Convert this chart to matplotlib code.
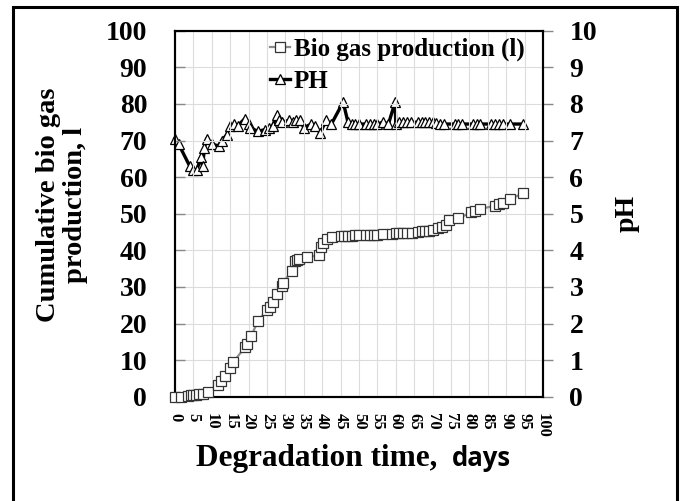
import matplotlib.pyplot as plt
from matplotlib.patches import Rectangle

# Cumulative biogas production (l) vs day
bio_days = [0, 1.5, 3.5, 4.3, 5, 5.8, 6.6, 7.5, 9, 11.7, 12.6, 13.5, 14.9, 15.8,
            19, 19.5, 20.7, 22.6, 24.9, 25.8, 26.7, 27.8, 29, 29.3, 31.7, 32.6,
            33.2, 33.7, 36, 39, 39.7, 40.3, 41.2, 42.6, 45, 46, 47, 48, 49, 50,
            52, 53, 54, 55, 56.5, 59, 60, 61, 62, 63, 64.5, 66, 67, 68, 69, 70,
            71.6, 72.5, 73.7, 74.5, 77, 80.5, 81.5, 83, 87, 88, 89, 91, 94.7]
bio_gas = [0, 0, 0.3, 0.4, 0.5, 0.6, 0.7, 0.8, 1.3, 3.2, 4.4, 5.6, 7.8, 9.4,
           13.5, 14.5, 16.6, 20.8, 23.6, 24.5, 26, 28, 30.3, 31, 34.3, 37.2,
           37.4, 37.5, 38.2, 38.6, 40.8, 42.1, 43, 43.5, 44, 44, 44, 44, 44.1, 44.1,
           44.2, 44.2, 44.2, 44.3, 44.4, 44.5, 44.6, 44.6, 44.6, 44.6, 44.7, 45.1,
           45.2, 45.3, 45.4, 45.6, 46, 46.4, 47, 48.4, 48.7, 50.4, 50.8, 51.3,
           52.2, 52.6, 53, 54, 55.6]

# pH vs day
ph_days = [0, 1, 4, 5, 6, 7, 7.5, 8, 8.6, 10, 12, 12.7, 14, 15, 16, 17, 19, 20,
           20.5, 22.5, 24.5, 25.5, 26.5, 27.8, 28.3, 29, 31, 32, 33, 34, 35, 37,
           38, 39.5, 41, 42.5, 45.7, 47, 48, 49, 50, 52, 53, 54, 55, 56.5, 58,
           59.8, 60, 61, 62, 63, 64, 66, 67, 68, 69, 70, 71, 72, 73, 76, 77, 78,
           81, 82, 83, 86, 87, 88, 89, 91, 94.7]
ph = [7.05, 6.9, 6.3, 6.2, 6.2, 6.55, 6.3, 6.8, 7.05, 6.9, 6.85, 7.0, 7.15, 7.4,
      7.45, 7.4, 7.6, 7.45, 7.35, 7.25, 7.3, 7.35, 7.4, 7.7, 7.55, 7.5, 7.55,
      7.5, 7.55, 7.55, 7.35, 7.45, 7.4, 7.2, 7.55, 7.45, 8.05, 7.5, 7.45, 7.45,
      7.45, 7.45, 7.45, 7.45, 7.45, 7.5, 7.45, 8.05, 7.45, 7.5, 7.5, 7.5, 7.5,
      7.5, 7.5, 7.5, 7.5, 7.5, 7.48, 7.45, 7.45, 7.45, 7.45, 7.45, 7.45, 7.45,
      7.45, 7.45, 7.45, 7.45, 7.45, 7.45, 7.45]

x_ticks = list(range(0, 101, 5))
left_ticks = list(range(0, 101, 10))
right_ticks = list(range(0, 11))

serif = 'Liberation Serif'

fig = plt.figure(figsize=(6.83, 5.01), dpi=100)
ax = fig.add_axes([175 / 683, 1 - 396.7 / 501, 368 / 683, 366 / 501])
ax2 = ax.twinx()

ax.set_zorder(ax2.get_zorder() + 1)
ax.patch.set_visible(False)

l1, = ax.plot(bio_days, bio_gas, color='#8c8c8c', lw=1.6, marker='s', ms=6.5,
              mfc='white', mec='#333333', mew=0.9, label='Bio gas production (l)',
              clip_on=False)
l2, = ax2.plot(ph_days, ph, color='black', lw=2.4, marker='^', ms=6.5,
               mfc='white', mec='black', mew=0.9, label='PH', clip_on=False)

ax.set_xlim(0, 100)
ax.set_ylim(0, 100)
ax2.set_ylim(0, 10)
ax.set_xticks(x_ticks)
ax.set_yticks(left_ticks)
ax2.set_yticks(right_ticks)

ax.tick_params(axis='x', direction='in', length=0, pad=12)
ax.tick_params(axis='y', direction='in', length=7, width=1, color='#888888', pad=20)
ax2.tick_params(axis='y', direction='out', length=7, width=1, color='#888888', pad=12)

# light grid under the data
ax.grid(True, color='#dcdcdc', lw=0.8)
l1.set_zorder(3)

for lab in ax.get_xticklabels():
    lab.set_fontfamily(serif)
    lab.set_fontweight('bold')
    lab.set_fontsize(12)
    lab.set_rotation(-90)
    lab.set_va('top')
    lab.set_ha('center')
for lab in ax.get_yticklabels() + ax2.get_yticklabels():
    lab.set_fontfamily(serif)
    lab.set_fontweight('bold')
    lab.set_fontsize(20)

for sp in ax.spines.values():
    sp.set_linewidth(1.5)
for sp in ax2.spines.values():
    sp.set_linewidth(1.5)

fig.text(62 / 683, 1 - 205 / 501, 'Cumulative bio gas\nproduction, l', rotation=90,
         ha='center', va='center', fontsize=20.5, fontweight='bold', family=serif,
         multialignment='center', linespacing=1.1)
fig.text(627 / 683, 1 - 213 / 501, 'pH', rotation=90, ha='center', va='center',
         fontsize=20, fontweight='bold', family=serif)
fig.text(437 / 683, 1 - 466 / 501, 'Degradation time,', ha='right', va='baseline',
         fontsize=22.5, fontweight='bold', family=serif)
fig.text(452 / 683, 1 - 466 / 501, 'days', ha='left', va='baseline',
         fontsize=18.5, fontweight='bold', family='Open Sans')

leg = ax.legend(handles=[l1, l2], loc='upper left', bbox_to_anchor=(270 / 683, 1 - 38 / 501),
                bbox_transform=fig.transFigure, frameon=False, borderpad=0,
                borderaxespad=0, handlelength=0.8, handletextpad=0.15,
                labelspacing=0.35, prop={'family': serif, 'weight': 'bold', 'size': 18})

fig.patches.append(Rectangle((13 / 683, -0.01), (676.5 - 13) / 683, 1.01 - 7.5 / 501,
                             transform=fig.transFigure, fill=False, lw=2.2,
                             edgecolor='black'))

fig.savefig('out.png', dpi=100)
